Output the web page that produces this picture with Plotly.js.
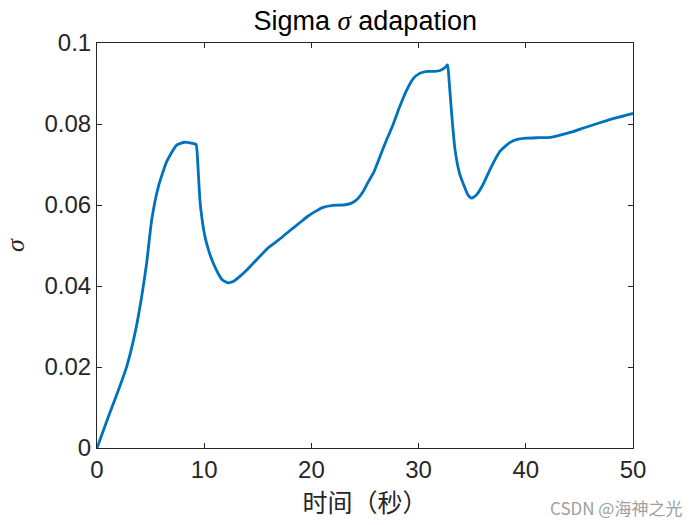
<!DOCTYPE html>
<html>
<head>
<meta charset="utf-8">
<script src="https://cdn.plot.ly/plotly-3.0.1.min.js"></script>
<style>html,body{margin:0;padding:0;background:#fff;}#chart{width:700px;height:525px;}</style>
</head>
<body>
<div id="chart"></div>
<script>
const timeSec = [0,1.06,2.0,2.77,3.54,4.17,4.63,5.1,5.72,6.5,7.43,8.2,9.08,9.25,9.45,9.6,9.8,10.07,10.45,10.85,11.3,11.7,12.2,12.7,13.3,14.0,15.0,16.0,17.0,18.0,19.0,19.6,20.3,21.1,22.0,23.0,23.7,24.3,24.8,25.3,25.8,26.4,27.0,27.6,28.2,28.9,29.5,30.1,30.8,31.5,32.0,32.4,32.7,32.85,33.1,33.4,33.8,34.2,34.6,34.95,35.4,36.0,36.7,37.6,38.5,39.2,40.1,41.0,42.3,43.3,44.4,45.6,46.9,48.4,50.0];
const sigmaVals = [0,0.0077,0.0143,0.0201,0.0283,0.0374,0.0456,0.0563,0.0645,0.0707,0.0748,0.0755,0.0751,0.0749,0.0680,0.0612,0.0565,0.0522,0.0485,0.0456,0.0431,0.0415,0.0408,0.0411,0.0423,0.0440,0.0468,0.0495,0.0515,0.0537,0.0558,0.0571,0.0583,0.0594,0.0599,0.0600,0.0604,0.0615,0.0632,0.0657,0.0680,0.0720,0.0760,0.0797,0.0840,0.0884,0.0912,0.0925,0.0930,0.0930,0.0932,0.0938,0.0946,0.0905,0.0820,0.0736,0.0680,0.0650,0.0625,0.0617,0.0625,0.0650,0.0690,0.0733,0.0754,0.0762,0.0765,0.0766,0.0767,0.0773,0.0781,0.0792,0.0803,0.0815,0.0826];
const xTicks = [0,10,20,30,40,50];
const xTickText = ['0','10','20','30','40','50'];
const yTicks = [0,0.02,0.04,0.06,0.08,0.1];
const yTickText = ['0','0.02','0.04','0.06','0.08','0.1'];

const fontFam = 'Liberation Sans, Arial, sans-serif';
const serif = 'Liberation Serif, Times New Roman, serif';
const axisCol = '#262626';

const trace = {
  x: timeSec, y: sigmaVals, type: 'scatter', mode: 'lines',
  line: {color: '#0072BD', width: 2.8, shape: 'spline', smoothing: 0.5}, hoverinfo: 'skip'
};

const layout = {
  width: 700, height: 525,
  margin: {l: 97, r: 67, t: 43, b: 77, pad: 0},
  paper_bgcolor: '#fff', plot_bgcolor: '#fff',
  showlegend: false,
  title: {text: 'Sigma <span style="font-family:' + serif + '"><i>σ</i></span> adapation', font: {family: fontFam, size: 27, color: '#000'}, x: 0.5217, xanchor: 'center', y: 0.96, yanchor: 'middle'},
  xaxis: {
    range: [0, 50], tickvals: xTicks, ticktext: xTickText,
    ticks: 'inside', ticklen: 5, tickwidth: 1, tickcolor: axisCol,
    showline: true, linecolor: axisCol, linewidth: 1, mirror: 'ticks',
    showgrid: false, zeroline: false, automargin: true,
    tickfont: {family: fontFam, size: 24, color: axisCol},
    title: {text: '时间（秒）', font: {family: 'Noto Sans CJK SC, sans-serif', size: 25, color: axisCol}, standoff: 8}
  },
  yaxis: {
    range: [0, 0.1], tickvals: yTicks, ticktext: yTickText,
    ticks: 'inside', ticklen: 5, tickwidth: 1, tickcolor: axisCol,
    showline: true, linecolor: axisCol, linewidth: 1, mirror: 'ticks',
    showgrid: false, zeroline: false, automargin: true,
    tickfont: {family: fontFam, size: 24, color: axisCol},
    title: {text: '<i>σ</i>', font: {family: serif, size: 26, color: axisCol}, standoff: 12}
  },
  annotations: [{
    text: 'CSDN @海神之光', xref: 'paper', yref: 'paper', x: 1.096, y: -0.146,
    xanchor: 'right', yanchor: 'middle', showarrow: false,
    font: {family: 'Noto Sans CJK SC, sans-serif', size: 17, color: '#a0a0a0'}
  }]
};

Plotly.newPlot('chart', [trace], layout, {displayModeBar: false, staticPlot: true});
</script>
</body>
</html>
